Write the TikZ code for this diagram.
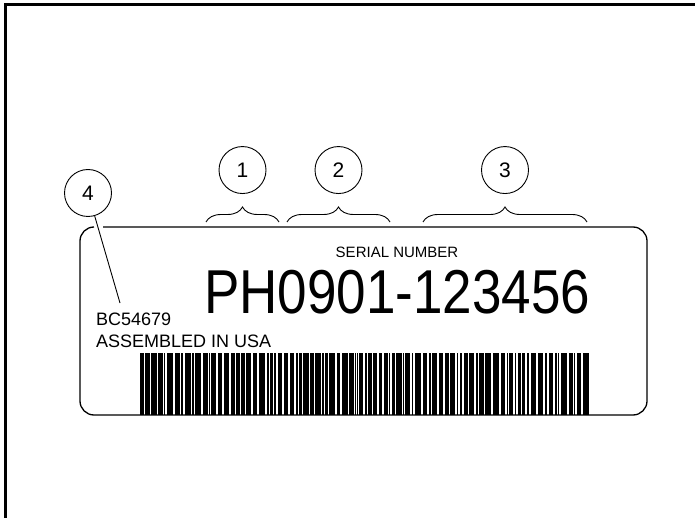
\documentclass[tikz,border=0pt]{standalone}
\usepackage{fontspec}
\setmainfont{Liberation Sans}
\usepackage{graphicx}
\usetikzlibrary{positioning}
\usetikzlibrary{decorations.pathreplacing}
\tikzstyle{frame}=[line width=3pt]
\tikzstyle{tag}=[draw, line width=1.3pt, rounded corners=14pt]
\tikzstyle{callout}=[circle, draw, line width=0.9pt, minimum size=47pt, inner sep=0pt, font=\fontsize{21}{21}\selectfont]
\tikzstyle{group}=[draw, line width=0.9pt, decorate, decoration={brace, amplitude=15pt}]
\tikzstyle{small}=[inner sep=0pt, anchor=base west, font=\fontsize{18}{18}\selectfont]

\begin{document}
\begin{tikzpicture}[x=1pt, y=-1pt, node distance=12pt]
    \useasboundingbox (0,0) rectangle (695,518);
    \draw[frame] (5,518) -- (5,5) -- (695,5);

    % label outline, open at the top left corner
    \draw[tag] (103,227) -- (647,227) -- (647,415) -- (80,415) -- (80,227) -- (94,227);

    % braces and their callouts
    \coordinate (s1) at (206,222);  \coordinate (e1) at (279,222);
    \coordinate (s2) at (287,222);  \coordinate (e2) at (390,222);
    \coordinate (s3) at (423,222);  \coordinate (e3) at (587,222);
    \foreach \n/\t in {1/one, 2/two, 3/three} {
        \draw[group] (s\n) -- (e\n);
        \path (s\n) -- (e\n) coordinate[midway] (m\n);
        \node[callout] (\t) [above=28pt of m\n] {\n};
    }
    \node[callout]  (four)  at (88,193)  {4};
    \coordinate     (lead)  at (120,303);
    \draw[line width=0.9pt] (four) -- (lead);

    % texts
    \node[inner sep=0pt, anchor=base, font=\fontsize{15}{15}\selectfont] (serial) at (397,258) {SERIAL NUMBER};
    \node[inner sep=0pt, anchor=base west, font=\fontsize{62}{62}\selectfont] (number) at (204,313) {\scalebox{0.855}[1]{PH0901-123456}};
    \node[small]  (batch)     at (96,325)  {BC54679};
    \node[small]  (assembled) at (96,347)  {ASSEMBLED IN USA};

    % barcode
    \begin{scope}
        \clip (140,353) rectangle (590,415);
        \pgfmathsetseed{4711}
        \xdef\barx{140}
        \foreach \k in {1,...,130} {
            \pgfmathrandominteger{\bw}{1}{6}
            \pgfmathrandominteger{\gw}{1}{2}
            \fill (\barx,353) rectangle ({\barx+\bw},415);
            \pgfmathsetmacro{\nx}{\barx+\bw+\gw}
            \xdef\barx{\nx}
        }
    \end{scope}
\end{tikzpicture}
\end{document}
